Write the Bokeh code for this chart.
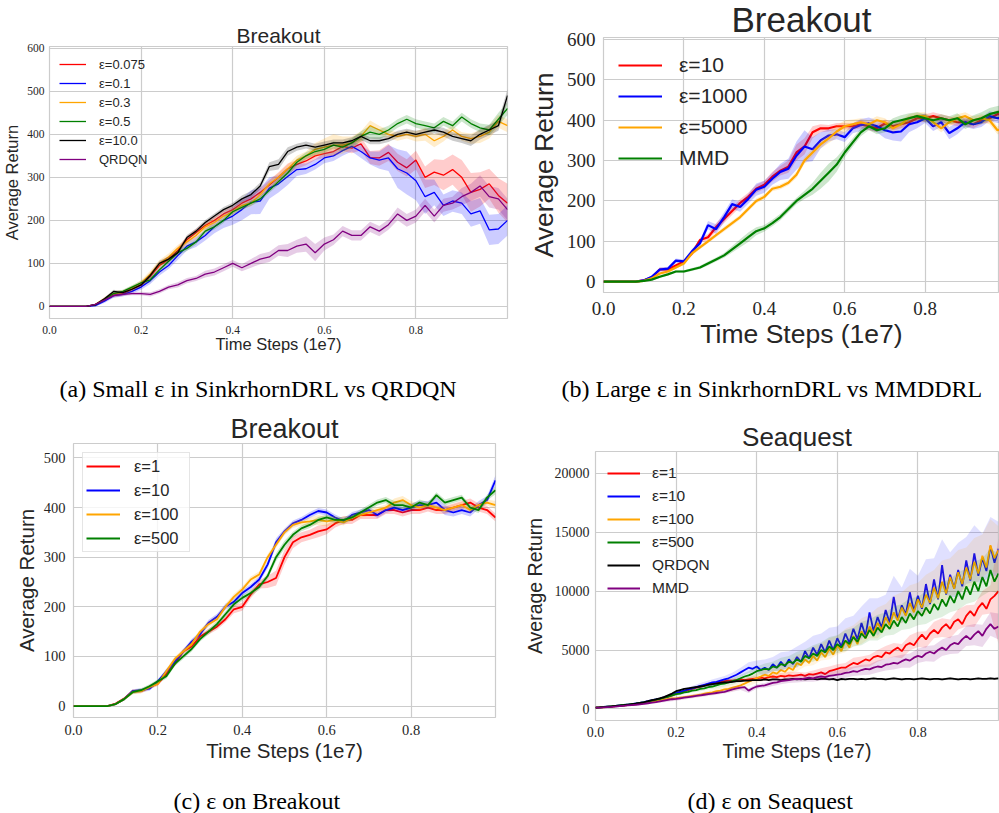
from bokeh.plotting import figure
from bokeh.layouts import column, row
from bokeh.models import Range1d, Title, Legend, LegendItem, FixedTicker, NumeralTickFormatter
from bokeh.core.properties import value
from bokeh.embed import file_html
from bokeh.resources import INLINE

# ---------------- data ----------------
T50 = [round(i * 0.02, 2) for i in range(51)]     # time steps (1e7), every 0.02
T100 = [round(i * 0.01, 2) for i in range(101)]   # time steps (1e7), every 0.01

# (a) Small eps vs QRDQN (Breakout)
a_eps0075 = [0,0,0,0,0, 3,15,27,30,40, 50,70,95,110,130,155,172,188,200,215,
             225,240,250,265,282,300,320,330,338,350, 355,360,372,368,378,346,345,358,335,322,
             340,300,312,305,318,300,265,272,285,258, 240]
a_eps01 = [0,0,0,0,0, 2,12,25,28,35, 45,60,80,95,118,140,150,165,185,200,
           210,225,242,245,275,285,302,318,320,330, 345,350,362,372,360,345,340,345,320,310,
           292,255,265,235,245,240,215,222,178,180, 200]
a_eps03 = [0,0,0,0,0, 5,18,30,32,42, 55,75,100,115,135,150,165,185,195,210,
           220,235,240,260,285,300,320,340,350,365, 370,375,375,380,395,420,410,400,395,400,
           395,400,385,395,410,395,390,395,405,430, 420]
a_eps05 = [0,0,0,0,0, 4,16,30,35,45, 55,62,85,105,125,135,150,175,185,200,
           220,230,240,250,270,290,310,335,350,360, 365,375,370,380,395,405,400,410,425,435,
           425,420,415,430,420,440,425,415,410,435, 460]
a_eps10 = [0,0,0,0,0, 4,18,35,32,40, 50,72,100,110,125,160,175,195,210,225,
           235,250,260,280,325,330,360,370,375,370, 375,380,380,385,395,385,385,390,400,405,
           400,405,410,405,395,390,385,400,410,420, 490]
a_qrdqn = [0,0,0,0,0, 5,15,25,28,30, 30,28,35,45,50,60,65,75,80,90,
           100,90,100,110,115,130,130,140,145,125, 145,155,175,165,165,185,175,190,215,200,
           210,235,210,235,240,255,265,280,255,250, 225]
a_sd_eps0075 = [0,0,0,0,0,2,4,5,5,5, 6,8,8,8,8,8,8,8,8,8, 8,8,8,10,12,12,12,10,10,10,
                10,10,10,12,15,15,18,20,20,20, 22,25,30,35,35,40,45,40,35,40,45]
a_sd_eps01 = [0,0,0,0,0,2,4,5,5,5, 6,8,8,8,10,10,12,12,15,18, 20,25,28,30,25,20,20,15,12,12,
              12,12,12,12,15,15,20,30,45,50, 45,40,30,25,25,25,30,30,35,35,35]
a_sd_eps03 = [0,0,0,0,0,2,4,6,6,6, 6,8,8,8,8,8,8,8,8,8, 8,8,8,8,8,10,10,10,10,15,
              20,25,20,15,12,12,10,10,10,10, 12,15,15,12,10,10,12,15,15,15,15]
a_sd_eps05 = [0,0,0,0,0,2,3,4,4,4, 5,6,6,6,6,6,6,6,6,6, 6,6,6,6,6,8,8,8,8,8,
              8,8,10,10,12,15,12,10,10,10, 10,10,10,10,10,10,10,10,12,15,15]
a_sd_eps10 = [0,0,0,0,0,2,3,4,4,4, 5,6,6,6,6,6,6,6,6,6, 6,8,8,8,10,12,10,8,8,8,
              8,8,8,8,8,8,8,8,8,8, 8,8,8,10,10,10,12,12,12,12,15]
a_sd_qrdqn = [0,0,0,0,0,2,3,4,4,4, 4,5,5,5,6,6,6,8,8,8, 8,8,10,12,12,12,15,15,18,20,
              15,12,12,12,12,12,12,12,15,15, 15,15,15,15,15,20,20,25,25,25,25]

# (b) Large eps vs MMD (Breakout)
b_eps10 = [0,0,0,0,0, 3,10,30,30,40, 50,70,103,110,135,155,175,195,210,230,
           240,260,275,285,320,335,370,380,380,385, 385,385,390,385,380,392,385,390,395,405,
           405,410,405,400,395,395,390,400,405,415, 415]
b_eps1000 = [0,0,0,0,0, 3,12,30,32,52, 50,75,95,140,130,160,192,185,205,228,
             235,255,272,280,312,335,328,350,362,365, 358,380,388,392,385,375,370,372,390,395,
             405,385,395,368,380,395,390,395,410,405, 405]
b_eps5000 = [0,0,0,0,0, 2,8,20,25,35, 45,70,85,100,115,130,145,160,180,200,
             210,230,235,245,265,300,320,340,355,372, 385,390,395,390,400,395,380,390,405,410,
             410,395,380,395,405,410,400,405,400,375, 380]
b_mmd = [0,0,0,0,0, 2,5,12,18,25, 25,30,35,45,55,65,80,95,110,125,
         132,145,160,180,200,215,230,250,270,290, 320,345,370,385,375,380,395,400,405,410,
         405,400,405,400,405,390,400,405,415,420, 425]
b_sd_eps10 = [0,0,0,0,0,2,4,5,5,5, 5,6,6,8,10,10,10,10,10,10, 10,12,12,15,20,20,15,10,8,8,
              8,8,10,10,10,10,10,10,10,10, 10,10,10,10,10,10,10,10,10,10,10]
b_sd_eps1000 = [0,0,0,0,0,2,4,5,5,5, 5,6,8,10,12,12,12,12,12,15, 15,15,20,25,35,40,30,20,15,12,
                12,12,15,15,15,20,20,25,20,15, 12,12,12,15,15,12,12,12,12,12,12]
b_sd_eps5000 = [0,0,0,0,0,2,3,4,4,4, 4,5,5,5,5,6,6,6,6,6, 6,6,6,6,8,8,10,10,12,15,
                15,12,10,10,10,10,10,10,10,10, 10,10,10,10,10,10,10,10,10,10,10]
b_sd_mmd = [0,0,0,0,0,1,2,3,3,3, 3,4,4,5,5,6,8,10,12,10, 8,8,8,8,8,10,15,20,22,18,
            12,10,10,10,10,10,10,12,12,10, 10,10,10,10,12,12,12,15,15,15,15]

# (c) eps on Breakout
c_eps1 = [0,0,0,0,0, 5,15,30,30,38, 45,65,85,110,120,140,150,160,175,195,
          200,225,245,250,258,300,330,340,345,352, 356,368,375,375,385,385,385,395,395,390,
          395,395,400,395,395,400,405,410,400,395, 380]
c_eps10 = [0,0,0,0,0, 4,14,30,32,35, 50,70,90,110,130,145,168,180,200,210,
           228,240,255,285,330,352,368,375,385,393, 390,380,372,385,390,395,385,395,400,395,
           400,405,405,410,395,390,395,390,405,415, 455]
c_eps100 = [0,0,0,0,0, 4,14,28,30,38, 45,70,95,110,125,150,165,175,200,220,
            235,255,265,300,325,350,365,370,372,375, 372,375,370,380,385,390,395,400,410,415,
            405,400,405,400,395,400,405,395,405,410, 405]
c_eps500 = [0,0,0,0,0, 4,14,28,32,40, 50,60,85,100,115,135,150,165,185,205,
            218,228,240,262,300,325,345,358,365,375, 380,375,375,380,390,400,410,415,405,405,
            400,410,405,425,410,415,420,400,395,420, 435]
c_sd_eps1 = [0,0,0,0,0,2,3,4,4,4, 4,5,5,5,5,5,6,6,6,8, 8,8,8,12,15,15,12,10,10,12,
             10,8,8,8,8,8,8,8,8,8, 8,8,8,8,8,8,8,8,8,8,8]
c_sd_eps10 = [0,0,0,0,0,2,3,4,4,4, 4,5,5,5,5,5,6,6,6,6, 6,6,6,8,8,6,6,6,6,6,
              6,6,6,6,6,6,6,6,6,6, 8,8,8,10,10,8,8,8,8,8,10]
c_sd_eps100 = [0,0,0,0,0,2,3,4,4,4, 4,5,5,5,5,5,6,6,6,6, 6,6,6,6,6,6,6,6,8,10,
               10,8,6,6,6,6,6,6,8,8, 8,6,6,6,6,6,6,6,6,6,8]
c_sd_eps500 = [0,0,0,0,0,2,3,4,4,4, 4,5,5,5,5,5,6,6,6,6, 6,6,6,6,8,8,6,6,6,6,
               6,6,6,6,6,6,6,6,8,8, 6,6,6,6,6,6,6,6,6,6,8]

# (d) eps on Seaquest (every 0.01)
d_eps1 = [100,120,150,170,200,230,260,300,330,370,
          420,470,530,600,680,760,850,950,1050,1150,
          1300,1400,1500,1600,1700,1800,1900,2000,2100,2150,
          2200,2300,2350,2400,2400,2450,2500,2450,2500,2550,
          2600,2650,2600,2700,2750,2700,2800,2750,2850,2800,
          2850,2900,2800,2950,2900,3000,3100,2950,3200,3300,
          3400,3500,3500,3700,3900,3800,4000,4200,4100,4400,
          4500,4400,4800,4700,5000,5200,4900,5400,5600,5400,
          5900,6300,5900,6400,6700,6400,6900,7200,6800,7400,
          7600,7200,7900,8300,7900,8600,9000,8500,9300,9600,
          10000]
d_eps10 = [100,130,160,190,220,250,290,330,370,410,
           460,520,580,650,730,800,880,970,1060,1200,
           1350,1450,1550,1650,1750,1850,1950,2050,2150,2250,
           2300,2400,2500,2600,2750,2900,3100,3300,3500,3400,
           3600,3300,3500,3300,3800,3500,4000,3600,4200,3800,
           4400,4000,4900,4300,5200,4600,5500,4800,5800,5000,
           6000,5300,6400,5600,6800,5900,7300,6200,8200,6600,
           7800,6900,8400,7300,9500,7600,8800,8000,9900,8300,
           9600,8500,10600,8900,11000,9300,12200,9700,11400,10200,
           11800,10400,12600,10900,13200,11300,12800,11700,13800,12400,
           13600]
d_eps100 = [100,120,140,170,200,230,260,290,320,350,
            400,440,490,540,600,660,720,790,860,900,
            900,950,1000,1050,1100,1150,1200,1300,1350,1400,
            1500,1550,1650,1700,1800,1900,2000,2150,2300,2450,
            2600,2750,2900,2800,3100,3000,3300,3150,3500,3300,
            3900,3700,4200,3900,4500,4100,4800,4400,5100,4600,
            5400,4900,5800,5200,6200,5500,6600,6000,7000,6400,
            7300,6700,7800,7100,8200,7500,8600,7900,9000,8200,
            9300,8600,9700,9000,10300,9400,10800,9800,11200,10200,
            11600,10600,12000,11000,12500,11500,13000,12000,13900,12800,
            13500]
d_eps500 = [100,130,160,190,220,250,290,330,370,410,
            450,500,560,620,700,780,860,950,1050,1150,
            1250,1300,1400,1450,1550,1600,1700,1750,1850,1900,
            2000,2100,2150,2250,2350,2450,2600,2750,2850,3000,
            3200,3300,3400,3350,3600,3500,3800,3700,4000,3900,
            4200,4000,4500,4300,4700,4500,5000,4800,5300,5000,
            5500,5200,5800,5500,6100,5700,6400,6000,6700,6200,
            6900,6500,7200,6800,7500,7000,7800,7300,8100,7600,
            8300,7900,8600,8100,8900,8400,9300,8700,9600,9000,
            10000,9300,10400,9700,10800,10000,11200,10400,11800,10800,
            11500]
d_qrdqn = [100,120,150,180,210,250,280,310,350,400,
           450,500,560,650,750,800,900,1000,1150,1300,
           1500,1600,1700,1750,1800,1850,1900,1950,2050,2100,
           2150,2200,2250,2250,2300,2350,2350,2400,2400,2450,
           2450,2450,2500,2450,2500,2500,2450,2500,2500,2550,
           2500,2550,2500,2550,2550,2500,2550,2550,2500,2550,
           2450,2550,2500,2550,2550,2500,2550,2500,2550,2600,
           2550,2550,2500,2550,2600,2550,2500,2550,2550,2500,
           2550,2600,2550,2500,2550,2550,2500,2550,2600,2550,
           2500,2550,2550,2500,2550,2600,2550,2550,2600,2550,
           2600]
d_mmd = [100,110,130,150,170,200,230,260,290,320,
         350,390,430,480,530,580,640,700,760,820,
         850,900,950,1000,1050,1100,1150,1200,1250,1300,
         1350,1400,1450,1550,1650,1750,1800,1850,1550,1750,
         1900,1950,2000,2100,2200,2250,2350,2400,2450,2500,
         2550,2500,2600,2650,2600,2700,2750,2700,2800,2850,
         2900,2950,3050,3100,3200,3150,3300,3400,3350,3500,
         3600,3550,3750,3800,3900,3850,4050,4200,4100,4350,
         4500,4400,4700,4850,4700,5000,5200,5000,5400,5600,
         5500,5900,6200,5900,6300,6600,6200,6800,7200,6800,
         7000]
# (d) spread, every 0.02
d_sd_eps1 = [0,20,30,40,50,60,80,100,120,150, 150,150,150,150,150,150,150,150,150,200,
             200,200,250,250,300,300,300,350,350,400, 400,400,450,450,500,500,550,600,600,650,
             650,700,700,800,800,850,900,950,1000,1200, 4500]
d_sd_eps10 = [0,20,30,40,50,60,80,100,120,150, 150,200,200,250,250,300,300,350,400,450,
              500,700,600,800,700,900,800,1000,900,1100, 1000,1300,1100,1400,1200,1600,1300,1800,1500,2000,
              1700,2100,1800,2200,1900,2300,2000,2400,2100,2500, 2300]
d_sd_eps100 = [0,20,30,40,50,60,80,100,120,150, 150,150,150,200,200,250,250,300,300,350,
               400,500,450,600,550,700,600,800,700,900, 800,1000,900,1100,1000,1300,1100,1400,1300,1500,
               1400,1700,1500,1800,1600,1900,1700,2000,1800,2200, 2000]
d_sd_eps500 = [0,20,30,40,50,60,80,100,120,150, 150,150,150,200,200,250,250,300,300,350,
               400,450,400,550,500,650,550,700,650,800, 750,900,800,1000,900,1100,1000,1200,1100,1300,
               1200,1400,1300,1500,1400,1600,1500,1700,1600,1800, 1700]
d_sd_qrdqn = [0,10,20,20,30,30,40,40,50,60, 60,60,80,80,80,80,80,80,80,80,
              80,80,80,80,80,80,80,80,80,80, 80,80,80,80,80,80,80,80,80,80,
              80,80,80,80,80,80,80,80,80,80, 80]
d_sd_mmd = [0,20,30,40,50,60,80,100,120,150, 150,150,150,150,150,150,150,200,200,200,
            200,200,250,250,250,300,300,300,350,350, 350,400,400,450,450,500,500,550,550,600,
            600,650,700,700,750,800,850,900,950,1000, 1100]

X_TICKS = [0.0, 0.2, 0.4, 0.6, 0.8]
Y_TICKS_BREAKOUT_600 = [0, 100, 200, 300, 400, 500, 600]
Y_TICKS_BREAKOUT_500 = [0, 100, 200, 300, 400, 500]
Y_TICKS_SEAQUEST = [0, 5000, 10000, 15000, 20000]

# ---------------- styling ----------------
RED, BLUE, ORANGE, GREEN, BLACK, PURPLE = "#ff0000", "#0000ff", "#ffa500", "#008000", "#000000", "#800080"
GRID = "#cccccc"
TXT = "#262626"
SANS = "Liberation Sans"
SERIF = "'Liberation Serif', 'Times New Roman', serif"


def make_panel(w, h, l, r, t, b, xr, yr, yticks, tick_px, lab_px, sdx_tick, sdx_lab, sdy_tick, sdy_lab):
    p = figure(width=w, height=h, output_backend="svg", toolbar_location=None, title=None,
               x_range=Range1d(*xr), y_range=Range1d(*yr),
               min_border_left=l, min_border_right=r, min_border_top=t, min_border_bottom=b)
    try:
        p.frame_align = False
    except Exception:
        pass
    p.background_fill_color = "white"
    p.border_fill_color = "white"
    p.outline_line_color = GRID
    p.outline_line_width = 1.2
    p.xaxis.ticker = FixedTicker(ticks=X_TICKS)
    p.xaxis.formatter = NumeralTickFormatter(format="0.0")
    p.yaxis.ticker = FixedTicker(ticks=yticks)
    for ax in (p.xaxis[0], p.yaxis[0]):
        ax.axis_line_color = None
        ax.major_tick_line_color = None
        ax.minor_tick_line_color = None
        ax.major_tick_out = 0
        ax.major_tick_in = 0
        ax.minor_tick_out = 0
        ax.minor_tick_in = 0
        ax.major_label_text_font = SERIF
        ax.major_label_text_font_size = f"{tick_px}px"
        ax.major_label_text_color = TXT
        ax.axis_label_text_font = SANS
        ax.axis_label_text_font_size = f"{lab_px}px"
        ax.axis_label_text_font_style = "normal"
        ax.axis_label_text_color = TXT
    p.xaxis.axis_label = "Time Steps (1e7)"
    p.yaxis.axis_label = "Average Return"
    p.xaxis.major_label_standoff = sdx_tick
    p.xaxis.axis_label_standoff = sdx_lab
    p.yaxis.major_label_standoff = sdy_tick
    p.yaxis.axis_label_standoff = sdy_lab
    p.grid.grid_line_color = GRID
    p.grid.grid_line_width = 1.2
    return p


def add_series(p, x, y, sd, color, lw, alpha=0.2, bx=None, by=None):
    if bx is None:
        bx, by = x, y
    p.varea(x=bx, y1=[m - s for m, s in zip(by, sd)], y2=[m + s for m, s in zip(by, sd)],
            fill_color=color, fill_alpha=alpha)
    return p.line(x, y, line_color=color, line_width=lw)


def add_legend(p, items, font_px, glyph_w, row_h, spacing, standoff, margin, padding,
               border=False, label_w=None):
    lg = Legend(items=[LegendItem(label=value(lab), renderers=[rr]) for lab, rr in items],
                location="top_left", margin=margin, padding=padding, spacing=spacing,
                glyph_width=glyph_w, glyph_height=row_h, label_height=row_h,
                label_standoff=standoff, label_text_font=SANS,
                label_text_font_size=f"{font_px}px", label_text_color=TXT)
    if label_w:
        lg.label_width = label_w
    if border:
        lg.border_line_color = GRID
        lg.border_line_width = 1
        lg.background_fill_color = "white"
        lg.background_fill_alpha = 0.8
    else:
        lg.border_line_alpha = 0
        lg.background_fill_alpha = 0
    p.add_layout(lg)


def add_title(p, text, px, standoff, valign="bottom"):
    p.add_layout(Title(text=text, align="center", vertical_align=valign, standoff=standoff,
                       text_font=SANS, text_font_size=f"{px}px", text_color=TXT,
                       text_font_style="normal"), "above")


def add_caption(p, text, offset, gap):
    # blank spacer between the x axis and the caption
    p.add_layout(Title(text=" ", text_font_size="1px", standoff=gap), "below")
    p.add_layout(Title(text=text, align="left", offset=offset, vertical_align="bottom", standoff=0,
                       text_font=SERIF, text_font_size="24px", text_color="#000000",
                       text_font_style="normal"), "below")


# ---------------- panel (a) ----------------
pa = make_panel(520, 410, 48, 13, 46, 92, (0, 0.9999), (-28, 604), Y_TICKS_BREAKOUT_600,
                11.5, 16.5, 7, -2, 5, 3)
lw = 1.3
ra = [
    ("ε=0.075", add_series(pa, T50, a_eps0075, a_sd_eps0075, RED, lw)),
    ("ε=0.1", add_series(pa, T50, a_eps01, a_sd_eps01, BLUE, lw)),
    ("ε=0.3", add_series(pa, T50, a_eps03, a_sd_eps03, ORANGE, lw)),
    ("ε=0.5", add_series(pa, T50, a_eps05, a_sd_eps05, GREEN, lw)),
    ("ε=10.0", add_series(pa, T50, a_eps10, a_sd_eps10, BLACK, lw)),
    ("QRDQN", add_series(pa, T50, a_qrdqn, a_sd_qrdqn, PURPLE, lw)),
]
add_legend(pa, ra, 13, 27, 16, 3, 13, 0, 10)
add_title(pa, "Breakout", 21, 0)
add_caption(pa, "(a) Small ε in SinkrhornDRL vs QRDQN", 10, 15)

# ---------------- panel (b) ----------------
pb = make_panel(479, 410, 83, 0, 37, 118, (0, 0.985), (-27, 605), Y_TICKS_BREAKOUT_600,
                19, 26.5, 9, 1, 8, 5)
lw = 2.2
rb = [
    ("ε=10", add_series(pb, T50, b_eps10, b_sd_eps10, RED, lw)),
    ("ε=1000", add_series(pb, T50, b_eps1000, b_sd_eps1000, BLUE, lw)),
    ("ε=5000", add_series(pb, T50, b_eps5000, b_sd_eps5000, ORANGE, lw)),
    ("MMD", add_series(pb, T50, b_mmd, b_sd_mmd, GREEN, lw)),
]
add_legend(pb, rb, 21, 44, 26, 5, 17, 0, 15)
add_title(pb, "Breakout", 35, -6, "top")
add_caption(pb, "(b) Large ε in SinkrhornDRL vs MMDDRL", -42, 19)

# ---------------- panel (c) ----------------
pc = make_panel(520, 403, 73, 25, 33, 96, (0, 1.0), (-23, 529), Y_TICKS_BREAKOUT_500,
                14.5, 20.5, 7, 1, 8, 3)
lw = 1.8
rc = [
    ("ε=1", add_series(pc, T50, c_eps1, c_sd_eps1, RED, lw)),
    ("ε=10", add_series(pc, T50, c_eps10, c_sd_eps10, BLUE, lw)),
    ("ε=100", add_series(pc, T50, c_eps100, c_sd_eps100, ORANGE, lw)),
    ("ε=500", add_series(pc, T50, c_eps500, c_sd_eps500, GREEN, lw)),
]
add_legend(pc, rc, 16.5, 34, 20, 4, 14, 9, 3, border=True, label_w=52)
add_title(pc, "Breakout", 27, 0)
add_caption(pc, "(c) ε on Breakout", 100, 18)

# ---------------- panel (d) ----------------
pd_ = make_panel(479, 403, 66, 1, 41, 91, (0, 1.0), (-986, 21855), Y_TICKS_SEAQUEST,
                 14, 19.5, 6, 0, 6, 6)
lw = 1.8
rd = [
    ("ε=1", add_series(pd_, T100, d_eps1, d_sd_eps1, RED, lw, 0.15, T50, d_eps1[::2])),
    ("ε=10", add_series(pd_, T100, d_eps10, d_sd_eps10, BLUE, lw, 0.12, T50, d_eps10[::2])),
    ("ε=100", add_series(pd_, T100, d_eps100, d_sd_eps100, ORANGE, lw, 0.12, T50, d_eps100[::2])),
    ("ε=500", add_series(pd_, T100, d_eps500, d_sd_eps500, GREEN, lw, 0.12, T50, d_eps500[::2])),
    ("QRDQN", add_series(pd_, T100, d_qrdqn, d_sd_qrdqn, BLACK, lw, 0.15, T50, d_qrdqn[::2])),
    ("MMD", add_series(pd_, T100, d_mmd, d_sd_mmd, PURPLE, lw, 0.15, T50, d_mmd[::2])),
]
add_legend(pd_, rd, 15.5, 33, 20, 3, 12, 0, 12)
add_title(pd_, "Seaquest", 26, 0)
add_caption(pd_, "(d) ε on Seaquest", 92, 18)

layout = column(row(pa, pb), row(pc, pd_))
open("out.html", "w").write(file_html(layout, INLINE))
